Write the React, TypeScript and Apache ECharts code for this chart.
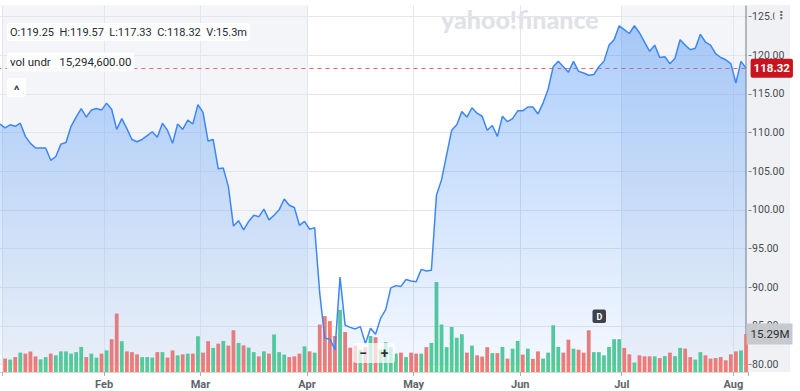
import React, { useEffect, useRef } from 'react';
import * as echarts from 'echarts';

// ---- calendar (NYSE sessions shown in the chart) ----
const FIRST_SESSION = '2024-12-31';
const LAST_SESSION = '2025-08-05';
const HOLIDAYS = ['2025-01-01', '2025-01-09', '2025-01-20', '2025-02-17', '2025-04-18', '2025-05-26', '2025-06-19', '2025-07-04'];
const MONTHS = ['Jan', 'Feb', 'Mar', 'Apr', 'May', 'Jun', 'Jul', 'Aug', 'Sep', 'Oct', 'Nov', 'Dec'];
const SHADED_QUARTER_MONTHS = [0, 3, 6];

// ---- daily closes (one per session, Dec 31 .. Aug 5) ----
const closes: number[] = [
  111.1, 110.6, 111.0, 110.8, 111.2, 109.5, 108.6, 108.0, 108.0, 108.0,
  106.4, 106.9, 108.5, 108.7, 110.8, 112.0, 113.1, 112.0, 112.9, 113.1,
  112.9, 113.8, 113.0, 110.4, 111.8, 110.5, 109.1, 108.8, 109.1, 109.6,
  110.1, 109.4, 111.2, 110.3, 108.6, 111.1, 110.4, 111.6, 111.1, 113.6,
  112.6, 108.9, 109.1, 105.3, 105.4, 103.0, 97.9, 98.6, 97.4, 98.5,
  99.3, 99.1, 100.1, 98.7, 99.3, 100.0, 101.4, 100.6, 100.3, 98.0,
  98.5, 97.5, 97.7, 89.2, 83.4, 83.3, 81.9, 91.3, 85.1, 84.8,
  84.6, 84.9, 82.7, 84.7, 83.9, 86.0, 87.1, 89.9, 90.2, 90.1,
  91.0, 90.8, 90.7, 92.3, 92.1, 92.2, 101.9, 103.9, 107.1, 110.3,
  111.0, 112.7, 112.0, 113.2, 112.5, 112.1, 110.3, 110.9, 109.5, 112.1,
  111.4, 111.8, 112.8, 112.8, 113.3, 113.3, 112.4, 113.8, 115.6, 118.5,
  119.2, 118.5, 117.8, 119.2, 117.9, 117.7, 117.4, 117.5, 118.5, 119.2,
  121.3, 122.0, 123.8, 123.3, 122.8, 123.8, 122.9, 121.7, 120.5, 121.3,
  119.7, 119.8, 118.9, 119.6, 122.0, 121.3, 120.7, 120.9, 122.7, 121.7,
  121.3, 120.2, 119.7, 119.4, 118.9, 116.4, 119.2, 118.32,
];

// ---- daily volume, millions (first session has no bar) ----
const volumesM: (number | null)[] = [
  null, 5.4, 5.0, 6.0, 7.8, 7.4, 8.3, 6.3, 5.1, 6.0,
  7.4, 6.7, 8.3, 8.3, 7.4, 8.0, 10.1, 6.0, 7.4, 5.8,
  7.4, 8.7, 13.2, 23.5, 12.4, 8.3, 8.0, 7.1, 6.0, 6.0,
  5.8, 8.0, 8.0, 5.8, 8.7, 6.7, 7.1, 7.4, 7.4, 14.4,
  7.8, 12.4, 9.7, 11.4, 12.5, 10.6, 16.8, 11.7, 10.7, 9.8,
  8.0, 6.3, 8.3, 7.4, 15.1, 8.0, 7.0, 6.0, 6.3, 7.4,
  10.3, 8.3, 7.8, 19.1, 22.5, 20.5, 14.5, 25.0, 16.1, 9.8,
  10.7, 9.0, 10.0, 14.5, 14.0, 9.0, 12.0, 10.0, 7.4, 7.8,
  6.0, 7.8, 7.4, 7.4, 10.0, 11.7, 36.2, 19.1, 10.0, 18.1,
  13.8, 15.2, 7.8, 10.6, 6.7, 6.2, 10.0, 7.6, 7.6, 10.1,
  5.4, 9.4, 12.5, 7.0, 9.4, 5.3, 8.3, 5.4, 7.8, 18.8,
  10.1, 7.8, 13.0, 9.4, 9.0, 7.8, 16.8, 8.0, 8.0, 6.7,
  10.1, 13.2, 13.2, 9.7, 7.1, 3.8, 6.7, 6.3, 6.3, 6.3,
  5.6, 6.4, 7.8, 6.4, 9.7, 9.4, 6.0, 5.0, 8.0, 6.7,
  5.4, 5.6, 6.0, 4.7, 7.1, 8.3, 8.7, 15.29,
];

// ---- bar colour per session: g = up day, r = down day ----
const volumeDirection: string = [
  '-',
  'rgrgrrrggr', 'ggggggrggr', 'grrgrrrggg', 'rgrrgrgrgr', 'rgrgrrgrgg',
  'rgrgggrrrg', 'rgrrrrgrrr', 'grgrggggrg', 'rrgrgggggg', 'grgrrrgrgr',
  'ggrgrrgggg', 'rrgrrrgggg', 'ggrrgrrrgr', 'grggrrggrr', 'rrrrrgr',
].join('');

// ---- axis / readouts ----
const PRICE_MIN = 80;
const PRICE_MAX = 125;
const PRICE_STEP = 5;
const VOLUME_AXIS_MAX_M = 147.5;
const LAST_CLOSE = 118.32;
const LAST_VOLUME_M = 15.29;
const QUOTE_ITEMS = ['O:119.25', 'H:119.57', 'L:117.33', 'C:118.32', 'V:15.3m'];
const VOL_UNDR_ITEMS = ['vol undr', '15,294,600.00'];
const WATERMARK = 'yahoo!finance';

function buildSessions(): string[] {
  const out: string[] = [];
  const d = new Date(FIRST_SESSION + 'T00:00:00Z');
  const end = new Date(LAST_SESSION + 'T00:00:00Z');
  while (d.getTime() <= end.getTime()) {
    const iso = d.toISOString().slice(0, 10);
    const wd = d.getUTCDay();
    if (wd !== 0 && wd !== 6 && HOLIDAYS.indexOf(iso) < 0) out.push(iso);
    d.setUTCDate(d.getUTCDate() + 1);
  }
  return out;
}

const GREEN = '#55cd96';
const RED = '#f47b73';
const LINE = '#3d87f5';
const FONT = 'Roboto, "Liberation Sans", Arial, sans-serif';
const PANEL = '#eff1f4';

export default function App() {
  const ref = useRef<HTMLDivElement | null>(null);

  useEffect(() => {
    if (!ref.current) return;
    const chart = echarts.init(ref.current, undefined, { renderer: 'svg' });
    const sessions = buildSessions();
    const monthOf = (k: number) => Number(sessions[k].slice(5, 7)) - 1;
    const isMonthStart = (k: number) => k > 0 && monthOf(k) !== monthOf(k - 1);
    const isQuarterStart = (k: number) => isMonthStart(k) && SHADED_QUARTER_MONTHS.indexOf(monthOf(k)) >= 0;

    const volumeData = volumesM.map((v, k) =>
      v == null ? null : { value: v, itemStyle: { color: volumeDirection[k] === 'g' ? GREEN : RED } }
    );

    const gridBase = { left: -2.54, right: 51.4, outerBoundsMode: 'none', containLabel: false };

    const option: any = {
      animation: false,
      backgroundColor: '#ffffff',
      grid: [
        { ...gridBase, top: 16.5, bottom: 26.5 },
        { ...gridBase, top: 5.5, bottom: 19 },
      ],
      xAxis: [
        {
          type: 'category', gridIndex: 0, data: sessions, boundaryGap: true,
          axisLine: { show: false }, axisTick: { show: false }, axisLabel: { show: false }, splitLine: { show: false },
        },
        {
          type: 'category', gridIndex: 1, data: sessions, boundaryGap: true,
          axisLine: { show: true, lineStyle: { color: '#d3d7dc', width: 1 } },
          axisTick: { show: true, length: 4, interval: (k: number) => isMonthStart(k), lineStyle: { color: '#aab0b6' } },
          axisLabel: {
            show: true, interval: (k: number) => isMonthStart(k) && monthOf(k) !== 0,
            formatter: (v: string) => MONTHS[Number(v.slice(5, 7)) - 1],
            color: '#5d656c', fontSize: 11, fontWeight: 'bold', fontFamily: FONT, margin: 7,
            padding: [0, 5, 0, 0],
          },
          splitLine: { show: true, interval: (k: number) => isMonthStart(k), lineStyle: { color: '#e2e7ed', width: 1 } },
          splitArea: {
            show: true, interval: (k: number) => isQuarterStart(k),
            areaStyle: { color: ['rgba(255,255,255,0)', '#f3f5f8'] },
          },
        },
      ],
      yAxis: [
        {
          type: 'value', gridIndex: 0, position: 'right', min: PRICE_MIN, max: PRICE_MAX, interval: PRICE_STEP,
          z: 4,
          axisLine: { show: false },
          axisTick: { show: true, length: 3, inside: false, lineStyle: { color: '#7d848b' } },
          axisLabel: {
            show: true, margin: 3.5, color: '#454c53', fontSize: 10.5, fontFamily: FONT,
            formatter: (v: number) => v.toFixed(2),
          },
          splitLine: { show: true, lineStyle: { color: '#e3e7ec', width: 1 } },
        },
        {
          type: 'value', gridIndex: 1, min: 0, max: VOLUME_AXIS_MAX_M, show: false,
          splitLine: { show: false },
        },
      ],
      series: [
        {
          name: 'Volume', type: 'bar', xAxisIndex: 1, yAxisIndex: 1, z: 5,
          barWidth: 3.8, data: volumeData,
          markLine: {
            symbol: ['none', 'none'], silent: true, animation: false,
            data: [
              { xAxis: sessions[sessions.length - 1], lineStyle: { color: '#9ca2a8', width: 1.5, type: 'solid' }, label: { show: false } },
              {
                yAxis: LAST_VOLUME_M, lineStyle: { color: 'rgba(0,0,0,0)', width: 0 },
                label: {
                  show: true, position: 'end', distance: -2,
                  formatter: LAST_VOLUME_M.toFixed(2) + 'M',
                  backgroundColor: '#c6c9cd', color: '#2a2f35', padding: [5, 3, 4, 4],
                  fontSize: 11.5, fontFamily: FONT,
                },
              },
            ],
          },
        },
        {
          name: 'Close', type: 'line', xAxisIndex: 0, yAxisIndex: 0, z: 6,
          data: closes, showSymbol: false, symbol: 'none',
          lineStyle: { color: LINE, width: 1.5 },
          areaStyle: {
            origin: 'start',
            color: {
              type: 'linear', x: 0, y: 16, x2: 0, y2: 372, global: true,
              colorStops: [
                { offset: 0, color: 'rgba(62,138,246,0.62)' },
                { offset: 1, color: 'rgba(62,138,246,0.07)' },
              ],
            },
          },
          markLine: {
            symbol: ['none', 'none'], silent: true, animation: false,
            data: [
              {
                yAxis: LAST_CLOSE,
                lineStyle: { color: '#e06a6a', width: 1, type: [4, 4] },
                label: {
                  show: true, position: 'end', distance: 2,
                  formatter: LAST_CLOSE.toFixed(2),
                  backgroundColor: '#c8141e', color: '#ffffff', padding: [4, 3, 3, 3], borderRadius: 2,
                  fontSize: 11.5, fontWeight: 'bold', fontFamily: FONT,
                },
              },
            ],
          },
        },
      ],
      graphic: [
        { type: 'rect', z: 1, silent: true, shape: { x: 747, y: 5, width: 43, height: 367 }, style: { fill: PANEL } },
        {
          type: 'text', z: 1, silent: true, x: 441, y: 19,
          style: { text: WATERMARK, font: '900 25px Lato, "Open Sans", sans-serif', fill: '#dfe2e6', verticalAlign: 'middle', align: 'left' },
        },
        {
          type: 'text', z: 8, silent: true, x: 7, y: 32,
          style: {
            text: QUOTE_ITEMS.join('  '), font: '11px ' + FONT, fill: '#232a31',
            backgroundColor: 'rgba(255,255,255,0.88)', padding: [4, 3, 3, 3], borderRadius: 3,
            verticalAlign: 'middle', align: 'left',
          },
        },
        {
          type: 'text', z: 8, silent: true, x: 7, y: 62,
          style: {
            text: VOL_UNDR_ITEMS.join('   '), font: '11.5px ' + FONT, fill: '#232a31',
            backgroundColor: 'rgba(255,255,255,0.88)', padding: [4, 3, 3, 3], borderRadius: 3,
            verticalAlign: 'middle', align: 'left',
          },
        },
        { type: 'rect', z: 8, silent: true, shape: { x: 7, y: 78, width: 19, height: 19, r: 3 }, style: { fill: 'rgba(255,255,255,0.92)' } },
        {
          type: 'text', z: 9, silent: true, x: 16.5, y: 90,
          style: { text: '^', font: 'bold 13px ' + FONT, fill: '#3c4249', align: 'center', verticalAlign: 'middle' },
        },
        { type: 'rect', z: 8, silent: true, shape: { x: 592.5, y: 309.5, width: 13.5, height: 13.5, r: 2 }, style: { fill: '#3d434a' } },
        {
          type: 'text', z: 9, silent: true, x: 599.3, y: 316.5,
          style: { text: 'D', font: 'bold 9px ' + FONT, fill: '#ffffff', align: 'center', verticalAlign: 'middle' },
        },
        { type: 'rect', z: 8, silent: true, shape: { x: 353, y: 343, width: 42, height: 20, r: 3 }, style: { fill: 'rgba(255,255,255,0.72)' } },
        {
          type: 'text', z: 9, silent: true, x: 363, y: 353,
          style: { text: '−', font: 'bold 14px ' + FONT, fill: '#2c3238', align: 'center', verticalAlign: 'middle' },
        },
        {
          type: 'text', z: 9, silent: true, x: 384.5, y: 353,
          style: { text: '+', font: 'bold 14px ' + FONT, fill: '#2c3238', align: 'center', verticalAlign: 'middle' },
        },
        {
          type: 'text', z: 9, silent: true, x: 781, y: 15,
          style: {
            text: '⋮', font: 'bold 11px "DejaVu Sans", sans-serif', fill: '#5a6168', align: 'center', verticalAlign: 'middle',
            backgroundColor: PANEL, padding: [2, 1],
          },
        },
      ],
    };

    chart.setOption(option);
    return () => chart.dispose();
  }, []);

  return (
    <div
      ref={ref}
      style={{ position: 'absolute', left: 0, top: 0, width: 800, height: 391, background: '#fff' }}
    />
  );
}
